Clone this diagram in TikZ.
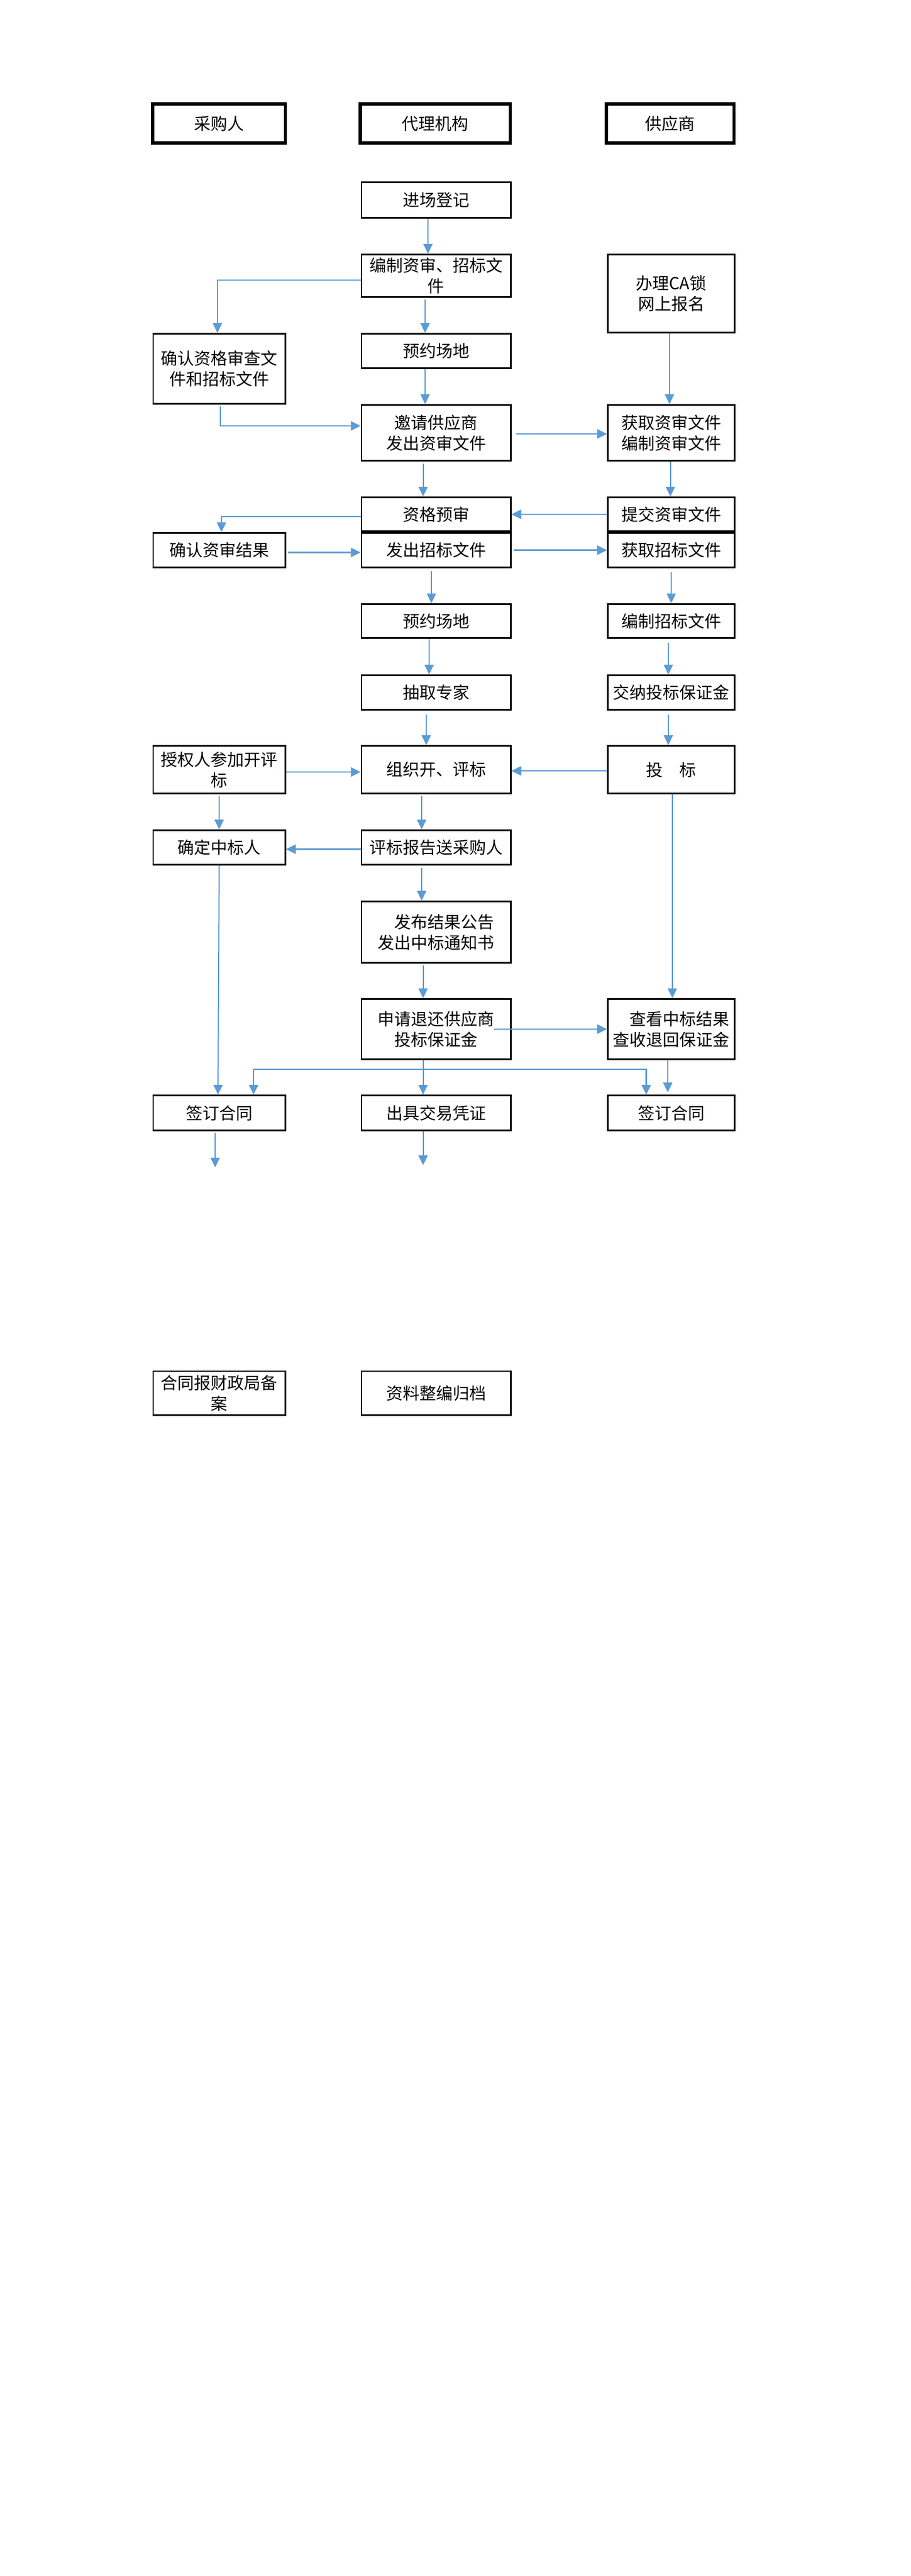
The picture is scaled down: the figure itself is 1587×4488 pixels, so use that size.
\documentclass[tikz,border=0pt]{standalone}
\usepackage{fontspec}
\setmainfont{Noto Sans CJK SC}
\usetikzlibrary{arrows.meta,calc}
\definecolor{linkblue}{HTML}{5B9BD5}

\begin{document}
\begin{tikzpicture}[x=0.5pt,y=0.5pt,yscale=-1,xscale=1,
    lane/.style={draw, line width=2.75pt, minimum height=34pt, inner sep=1pt, font=\fontsize{14.5pt}{18pt}\selectfont},
    stepbox/.style={draw, line width=1.4pt, inner sep=1pt, align=center, font=\fontsize{14.5pt}{18pt}\selectfont},
    colL/.style={minimum width=115.1pt},
    colM/.style={minimum width=130.1pt},
    colR/.style={minimum width=110.6pt},
    flow/.style={linkblue, line width=1pt, -{Triangle[length=8.5pt,width=8pt]}},
    flowthick/.style={flow, line width=1.4pt}]
            \useasboundingbox (0,0) rectangle (1587,4488);
            \node [lane, minimum width=115.75pt] (hBuyer) at (381.5,215) {采购人};
            \node [lane, minimum width=130.75pt] (hAgent) at (758.5,215) {代理机构};
            \node [lane, minimum width=111.25pt] (hSupp) at (1168,215) {供应商};
            \node [stepbox, colM, minimum height=31.1pt] (register) at (760,348.5) {进场登记};
            \node [stepbox, colM, minimum height=37.1pt] (draftDocs) at (760,480.5) {编制资审、招标文\\件};
            \node [stepbox, colR, minimum height=68.1pt] (caLock) at (1170,511.5) {办理CA锁\\网上报名};
            \node [stepbox, colL, minimum height=61.1pt] (confirmDocs) at (382,642.5) {确认资格审查文\\件和招标文件};
            \node [stepbox, colM, minimum height=30.1pt] (bookRoomA) at (760,611.5) {预约场地};
            \node [stepbox, colM, minimum height=48.6pt] (invite) at (760,754) {邀请供应商\\发出资审文件};
            \node [stepbox, colR, minimum height=48.6pt] (getPre) at (1170,754) {获取资审文件\\编制资审文件};
            \node [stepbox, colM, minimum height=29.6pt] (preQual) at (760,896) {资格预审};
            \node [stepbox, colR, minimum height=29.6pt] (submitPre) at (1170,896) {提交资审文件};
            \node [stepbox, colL, minimum height=30.1pt] (confirmRes) at (382,958.5) {确认资审结果};
            \node [stepbox, colM, minimum height=30.1pt] (issueBid) at (760,958.5) {发出招标文件};
            \node [stepbox, colR, minimum height=30.1pt] (getBid) at (1170,958.5) {获取招标文件};
            \node [stepbox, colM, minimum height=29.6pt] (bookRoomB) at (760,1082) {预约场地};
            \node [stepbox, colR, minimum height=29.6pt] (draftBid) at (1170,1082) {编制招标文件};
            \node [stepbox, colM, minimum height=30.1pt] (experts) at (760,1206.5) {抽取专家};
            \node [stepbox, colR, minimum height=30.1pt] (deposit) at (1170,1206.5) {交纳投标保证金};
            \node [stepbox, colL, minimum height=41.6pt] (attend) at (382,1341) {授权人参加开评\\标};
            \node [stepbox, colM, minimum height=41.6pt] (evaluate) at (760,1341) {组织开、评标};
            \node [stepbox, colR, minimum height=41.6pt] (bid) at (1170,1341) {投\quad 标};
            \node [stepbox, colL, minimum height=30.1pt] (winner) at (382,1476.5) {确定中标人};
            \node [stepbox, colM, minimum height=30.1pt] (report) at (760,1476.5) {评标报告送采购人};
            \node [stepbox, colM, minimum height=53.6pt, align=right] (announce) at (760,1624) {发布结果公告\\发出中标通知书};
            \node [stepbox, colM, minimum height=52.6pt] (refund) at (760,1793) {申请退还供应商\\投标保证金};
            \node [stepbox, colR, minimum height=52.6pt, align=right] (check) at (1170,1793) {查看中标结果\\查收退回保证金};
            \node [stepbox, colL, minimum height=30.6pt] (signL) at (382,1939) {签订合同};
            \node [stepbox, colM, minimum height=30.6pt] (voucher) at (760,1939) {出具交易凭证};
            \node [stepbox, colR, minimum height=30.6pt] (signR) at (1170,1939) {签订合同};
            \node [stepbox, colL, minimum height=38.1pt] (filing) at (382,2427) {合同报财政局备\\案};
            \node [stepbox, colM, minimum height=38.1pt] (archive) at (760,2427) {资料整编归档};
            \coordinate (endL) at (375,2034);
            \coordinate (endM) at (737.5,2030);
            \coordinate (split) at ($(refund.south)+(-22.5,16)$);
            \draw [flow] ($(register.south)+(-14,0)$) -- ($(draftDocs.north)+(-14,0)$);
            \draw [flow] ($(draftDocs.west)+(0,7.5)$) -| ($(confirmDocs.north)+(-3,0)$);
            \draw [flow] ($(draftDocs.south)+(-19,3)$) -- ($(bookRoomA.north)+(-19,0)$);
            \draw [flow] ($(caLock.south)+(-3,0)$) -- ($(getPre.north)+(-3,0)$);
            \draw [flow] ($(bookRoomA.south)+(-19,0)$) -- ($(invite.north)+(-19,0)$);
            \draw [flowthick] ($(confirmDocs.south)+(2,3)$) |- ($(invite.west)+(0,-12)$);
            \draw [flowthick] ($(invite.east)+(8,2)$) -- ($(getPre.west)+(0,2)$);
            \draw [flow] ($(invite.south)+(-22.5,4)$) -- ($(preQual.north)+(-22.5,0)$);
            \draw [flow] ($(getPre.south)+(-1.5,0)$) -- ($(submitPre.north)+(-1.5,0)$);
            \draw [flowthick] (submitPre.west) -- (preQual.east);
            \draw [flowthick] ($(preQual.west)+(0,4)$) -| ($(confirmRes.north)+(4,0)$);
            \draw [flowthick] ($(confirmRes.east)+(3,4)$) -- ($(issueBid.west)+(0,4)$);
            \draw [flowthick] ($(issueBid.east)+(4,0)$) -- (getBid.west);
            \draw [flow] ($(issueBid.south)+(-8,5)$) -- ($(bookRoomB.north)+(-8,0)$);
            \draw [flow] ($(getBid.south)+(0,7)$) -- (draftBid.north);
            \draw [flow] ($(bookRoomB.south)+(-12,0)$) -- ($(experts.north)+(-12,0)$);
            \draw [flow] ($(draftBid.south)+(-5,7)$) -- ($(deposit.north)+(-5,0)$);
            \draw [flow] ($(experts.south)+(-17,7)$) -- ($(evaluate.north)+(-17,0)$);
            \draw [flow] ($(deposit.south)+(-5,7)$) -- ($(bid.north)+(-5,0)$);
            \draw [flowthick] ($(attend.east)+(0,4)$) -- ($(evaluate.west)+(0,4)$);
            \draw [flowthick] ($(bid.west)+(0,2)$) -- ($(evaluate.east)+(0,2)$);
            \draw [flow] ($(attend.south)+(0,3)$) -- (winner.north);
            \draw [flow] ($(evaluate.south)+(-25,3)$) -- ($(report.north)+(-25,0)$);
            \draw [flowthick] ($(report.west)+(0,3)$) -- ($(winner.east)+(0,3)$);
            \draw [flow] ($(bid.south)+(2,0)$) -- ($(check.north)+(2,0)$);
            \draw [flow] (winner.south) -- ($(signL.north)+(-2,0)$);
            \draw [flow] ($(report.south)+(-25,4)$) -- ($(announce.north)+(-25,0)$);
            \draw [flow] ($(announce.south)+(-22.5,3)$) -- ($(refund.north)+(-22.5,0)$);
            \draw [flowthick] ($(refund.east)+(-31,0)$) -- (check.west);
            \draw [flow] ($(refund.south)+(-22.5,0)$) -- ($(voucher.north)+(-22.5,0)$);
            \draw [flowthick] (split) -| ($(signL.north)+(60,0)$);
            \draw [flowthick] (split) -| ($(signR.north)+(-43.5,0)$);
            \draw [flow, shorten >=2pt] ($(check.south)+(-6,0)$) -- ($(signR.north)+(-6,0)$);
            \draw [flow] ($(signL.south)+(-7,3)$) -- (endL);
            \draw [flow] ($(voucher.south)+(-22.5,0)$) -- (endM);
\end{tikzpicture}
\end{document}
